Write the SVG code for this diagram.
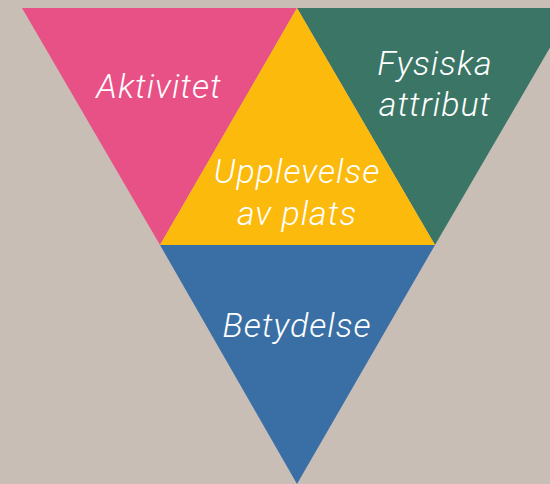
<svg xmlns="http://www.w3.org/2000/svg" width="550" height="484" viewBox="0 0 550 484">
<style>
text{font-family:Roboto,"Liberation Sans",sans-serif;font-style:italic;font-weight:300;font-size:34px;fill:#ffffff;text-anchor:middle;letter-spacing:1px}
</style>
<rect width="550" height="484" fill="#C9BEB6"/>
<g id="aktivitet">
<polygon points="22,8 297,8 160,245" fill="#E85186"/>
<text x="159" y="98">Aktivitet</text>
</g>
<g id="fysiska">
<polygon points="297,8 573,8 435,245" fill="#3A7566"/>
<text x="435" y="75">Fysiska</text>
<text x="435" y="116">attribut</text>
</g>
<g id="upplevelse">
<polygon points="297,8 160,245 435,245" fill="#FBBA0C"/>
<text x="297" y="183">Upplevelse</text>
<text x="297" y="225">av plats</text>
</g>
<g id="betydelse">
<polygon points="160,245 435,245 297,484" fill="#3A6FA6"/>
<text x="297" y="337">Betydelse</text>
</g>
<g id="connectors"></g>
</svg>
